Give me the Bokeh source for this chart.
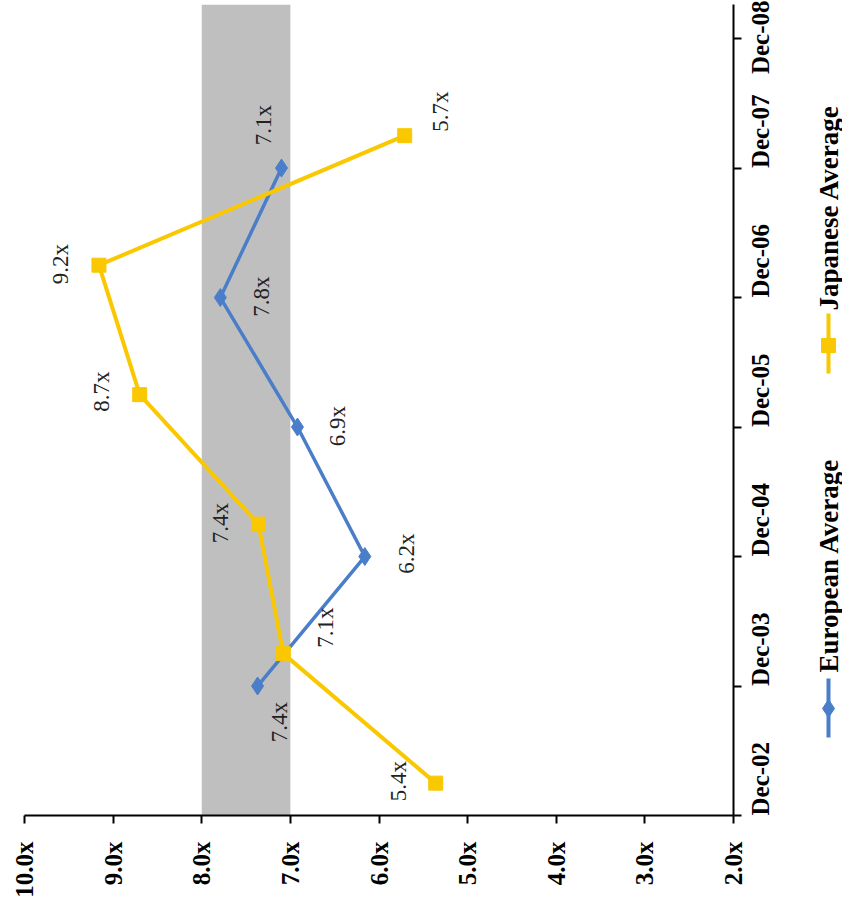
import math
from bokeh.plotting import figure
from bokeh.models import Range1d, FixedTicker, BoxAnnotation, PrintfTickFormatter, CustomJSTickFormatter
from bokeh.layouts import row
from bokeh.embed import file_html
from bokeh.resources import INLINE
from bokeh.core.properties import value

# ---------------- data ----------------
date_ticks = ["Dec-02", "Dec-03", "Dec-04", "Dec-05", "Dec-06", "Dec-07", "Dec-08"]
multiple_ticks = [2.0, 3.0, 4.0, 5.0, 6.0, 7.0, 8.0, 9.0, 10.0]

european_name = "European Average"
european_dates = ["Dec-03", "Dec-04", "Dec-05", "Dec-06", "Dec-07"]
european_values = [7.37, 6.16, 6.92, 7.79, 7.10]

japanese_name = "Japanese Average"
japanese_dates = ["Mar-03", "Mar-04", "Mar-05", "Mar-06", "Mar-07", "Mar-08"]
japanese_values = [5.36, 7.08, 7.36, 8.70, 9.16, 5.71]

band_low, band_high = 7.0, 8.0

# ---------------- label placement (screen px) ----------------
european_label_dx = [22, 42, 40, 41, -18]
european_label_dy = [36, -3, -1, -1, -43]
japanese_label_dx = [-37, 42, -38, -38, -38, 36]
japanese_label_dy = [-2, -26, -1, -3, -1, -24]

BLUE = "#4A7EC8"
YELLOW = "#F9C800"
BAND = "#BFBFBF"
SERIF = "Liberation Serif"

MONTHS = {"Jan": 1, "Feb": 2, "Mar": 3, "Apr": 4, "May": 5, "Jun": 6,
          "Jul": 7, "Aug": 8, "Sep": 9, "Oct": 10, "Nov": 11, "Dec": 12}


def to_pos(d):
    m, y = d.split("-")
    return (2000 + int(y) - 2002) + (MONTHS[m] - 12) / 12.0


eu_y = [to_pos(d) for d in european_dates]
jp_y = [to_pos(d) for d in japanese_dates]
tick_pos = [to_pos(d) for d in date_ticks]

H = 906
W1 = 812
W2 = 30
FRAME_LEFT, FRAME_RIGHT, FRAME_TOP, FRAME_BOTTOM = 24, 733, 4, 815

p = figure(width=W1, height=H, output_backend="svg", toolbar_location=None,
           x_range=Range1d(10.0, 2.0), y_range=Range1d(0.0, 6.263),
           x_axis_location="below", y_axis_location="right",
           min_border_left=FRAME_LEFT, min_border_right=W1 - FRAME_RIGHT,
           min_border_top=FRAME_TOP, min_border_bottom=H - FRAME_BOTTOM)
p.outline_line_color = None
p.xgrid.visible = False
p.ygrid.visible = False
p.background_fill_color = "white"
p.border_fill_color = "white"

p.add_layout(BoxAnnotation(left=band_low, right=band_high, fill_color=BAND,
                           fill_alpha=1.0, line_color=None, level="underlay"))

# axes
for ax in (p.xaxis[0], p.yaxis[0]):
    ax.axis_line_color = "black"
    ax.axis_line_width = 2
    ax.major_tick_line_color = "black"
    ax.major_tick_line_width = 2
    ax.major_tick_out = 8
    ax.major_tick_in = 0
    ax.minor_tick_line_color = None
    ax.major_label_text_font = SERIF
    ax.major_label_text_font_style = "bold"
    ax.major_label_text_font_size = "25px"
    ax.major_label_text_color = "black"
    ax.major_label_orientation = math.pi / 2

p.xaxis[0].ticker = FixedTicker(ticks=multiple_ticks)
p.xaxis[0].formatter = PrintfTickFormatter(format="%.1fx")
p.xaxis[0].major_label_standoff = 18

p.yaxis[0].ticker = FixedTicker(ticks=tick_pos)
p.yaxis[0].formatter = CustomJSTickFormatter(args=dict(labels=date_ticks),
                                             code="return labels[Math.round(tick)];")
p.yaxis[0].major_label_standoff = 19

# series
p.line(european_values, eu_y, line_color=BLUE, line_width=3.5)
p.scatter(european_values, eu_y, marker="diamond", size=18, fill_color=BLUE, line_color=BLUE)
p.line(japanese_values, jp_y, line_color=YELLOW, line_width=4)
p.scatter(japanese_values, jp_y, marker="square", size=14, fill_color=YELLOW, line_color=YELLOW)

label_style = dict(angle=math.pi / 2, text_align="center", text_baseline="middle",
                   text_font=value(SERIF), text_font_size="23px", text_color="#222222")
p.text(european_values, eu_y, text=[f"{v:.1f}x" for v in european_values],
       x_offset=european_label_dx, y_offset=european_label_dy, **label_style)
p.text(japanese_values, jp_y, text=[f"{v:.1f}x" for v in japanese_values],
       x_offset=japanese_label_dx, y_offset=japanese_label_dy, **label_style)

# legend panel (rotated legend at the right); its frame is aligned with the main frame
lg = figure(width=W2, height=H, output_backend="svg", toolbar_location=None,
            x_range=Range1d(W1, W1 + W2), y_range=Range1d(FRAME_BOTTOM, FRAME_TOP),
            min_border_left=0, min_border_right=0,
            min_border_top=FRAME_TOP, min_border_bottom=H - FRAME_BOTTOM,
            x_axis_type=None, y_axis_type=None)
lg.outline_line_color = None
lg.xgrid.visible = False
lg.ygrid.visible = False

lx = 828
lg.segment(x0=[lx], y0=[678], x1=[lx], y1=[737], line_color=BLUE, line_width=4)
lg.scatter([lx], [708], marker="diamond", size=18, fill_color=BLUE, line_color=BLUE)
lg.segment(x0=[lx], y0=[313], x1=[lx], y1=[373], line_color=YELLOW, line_width=4)
lg.scatter([lx], [345], marker="square", size=14, fill_color=YELLOW, line_color=YELLOW)
legend_style = dict(angle=math.pi / 2, text_align="left", text_baseline="middle",
                    text_font=value(SERIF), text_font_style="bold", text_font_size="27px",
                    text_color="black")
lg.text([lx], [672], text=[european_name], **legend_style)
lg.text([lx], [310], text=[japanese_name], **legend_style)

layout = row(p, lg, spacing=0)
open("out.html", "w").write(file_html(layout, INLINE))
